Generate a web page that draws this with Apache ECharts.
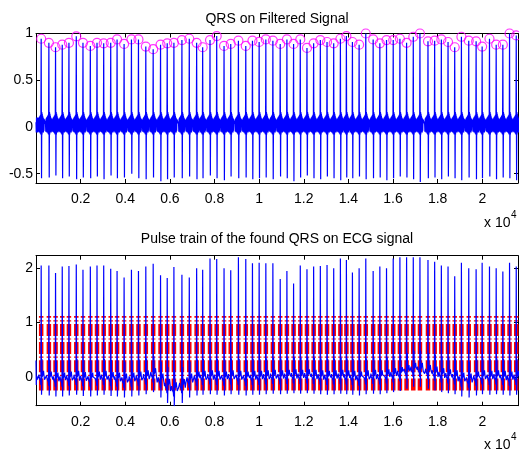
<!DOCTYPE html>
<html><head><meta charset="utf-8">
<script src="https://cdn.jsdelivr.net/npm/echarts@6/dist/echarts.min.js"></script>
<style>html,body{margin:0;padding:0;background:#fff}#c{width:519px;height:452px}</style>
</head><body><div id="c"></div>
<script>
// ---- data ----
const rPeakSamples = [232,577,876,1176,1476,1805,2105,2435,2734,3034,3348,3633,3948,4277,4592,4921,5251,5581,5880,6180,6539,6869,7199,7469,7798,8098,8427,8727,9071,9401,9700,10000,10300,10615,10944,11244,11543,11843,12143,12442,12742,13042,13341,13641,13910,14180,14480,14779,15109,15409,15708,16008,16308,16607,16907,17206,17566,17865,18165,18465,18764,19064,19393,19723,19993,20322,20622,20921,21221,21521];
const filtPeaks = [0.944,0.90,0.853,0.88,0.90,0.97,0.90,0.867,0.90,0.895,0.90,0.937,0.888,0.937,0.937,0.86,0.832,0.88,0.895,0.90,0.93,0.944,0.90,0.853,0.93,0.972,0.867,0.888,0.923,0.867,0.923,0.91,0.937,0.923,0.888,0.937,0.888,0.937,0.846,0.895,0.93,0.909,0.895,0.944,0.972,0.909,0.88,1.0,0.937,0.895,0.93,0.93,0.944,0.90,0.965,1.0,0.916,0.923,0.937,0.909,0.853,0.965,0.923,0.916,0.86,0.944,0.88,0.88,1.0,0.979];
const filtTroughs = [-0.55,-0.54,-0.52,-0.55,-0.53,-0.56,-0.54,-0.55,-0.53,-0.56,-0.52,-0.55,-0.54,-0.5,-0.55,-0.56,-0.54,-0.58,-0.56,-0.54,-0.55,-0.53,-0.56,-0.55,-0.52,-0.55,-0.57,-0.53,-0.55,-0.54,-0.56,-0.55,-0.54,-0.56,-0.53,-0.55,-0.58,-0.54,-0.52,-0.55,-0.56,-0.53,-0.55,-0.57,-0.54,-0.55,-0.53,-0.56,-0.55,-0.54,-0.57,-0.55,-0.53,-0.54,-0.56,-0.59,-0.55,-0.54,-0.56,-0.53,-0.55,-0.57,-0.54,-0.56,-0.55,-0.53,-0.56,-0.54,-0.55,-0.57];
const ecgPeaks = [2.05,2.05,1.91,2.03,2.04,2.07,1.97,2.03,2.05,2.05,1.99,1.95,1.83,1.97,1.95,2.03,2.08,1.87,1.82,2.02,1.88,1.83,2.0,1.97,2.18,2.17,2.0,1.96,2.2,2.17,2.09,2.1,2.09,2.09,1.8,1.95,1.72,2.05,1.98,2.03,2.04,2.06,2.0,2.18,2.15,1.92,2.0,2.18,1.95,2.03,2.0,2.18,2.2,2.2,2.2,2.2,2.15,2.12,2.05,2.03,1.85,2.1,2.0,1.98,2.1,2.03,2.0,1.94,2.1,2.03];
const ecgBaseline = [-0.05,-0.06,-0.08,-0.08,-0.06,-0.05,-0.07,-0.08,-0.06,-0.05,-0.07,-0.08,-0.1,-0.08,-0.06,-0.04,0.0,-0.1,-0.2,-0.26,-0.2,-0.1,-0.06,-0.05,-0.04,-0.05,-0.06,-0.04,-0.05,-0.06,-0.05,-0.05,-0.04,-0.03,-0.04,-0.03,-0.02,-0.03,-0.02,-0.03,-0.04,-0.05,-0.04,-0.03,-0.04,-0.05,-0.06,-0.04,-0.03,-0.04,-0.02,0.0,0.02,0.06,0.1,0.1,0.06,0.03,0.0,-0.02,-0.04,-0.08,-0.1,-0.06,-0.04,-0.05,-0.04,-0.05,-0.06,-0.05];
// beat shape around each R peak (sample offset, value); 'R' = peak, 'S' = trough
const filtShapeOffsets = [-150,-138,-126,-114,-102,-90,-78,-66,-54,-42,-30,-18,-10,0,16,28,38,48,58,68,78,90,102,114,126,138];
const filtShapeValues  = [0.03,-0.05,0.09,-0.04,0.1,-0.06,0.11,-0.05,0.12,-0.07,0.13,-0.08,0.16,'R','S',0.16,-0.08,0.14,-0.06,0.12,-0.05,0.1,-0.06,0.09,-0.04,0.08];
const ecgShapeOffsets = [-150,-120,-100,-80,-50,-25,-12,0,16,26,34,44,60,85,105,125,150];
const ecgShapeValues  = [0,0.03,0.09,0.03,0,-0.03,-0.1,'R',-0.28,-0.1,0.38,0.05,0.04,0.1,0.16,0.08,0];
const filtLead = [[0,0.05],[12,-0.06],[24,0.1],[36,-0.05],[48,0.08],[60,-0.06],[72,0.1]];
const ecgLead = [[0,0.3],[12,-0.15],[30,0.02],[60,-0.05]];
const pulseLow = -0.25, pulseHigh = 1.12;
const xTickValues = [2000,4000,6000,8000,10000,12000,14000,16000,18000,20000];
const xTickLabels = ['0.2','0.4','0.6','0.8','1','1.2','1.4','1.6','1.8','2'];
const yTopTicks = [-0.5,0,0.5,1];
const yTopLabels = ['-0.5','0','0.5','1'];
const yBotTicks = [0,1,2];
const yBotLabels = ['0','1','2'];
const xMax = 21600;

// ---- build series ----
function build(offsets, values, valFn, lead) {
  const out = lead.slice();
  const n = rPeakSamples.length;
  for (let i = 0; i < n; i++) {
    const r = rPeakSamples[i];
    const lo = i === 0 ? -Infinity : (rPeakSamples[i-1] + r) / 2;
    const hi = i === n-1 ? Infinity : (rPeakSamples[i+1] + r) / 2;
    for (let k = 0; k < offsets.length; k++) {
      const s = r + offsets[k];
      if (s < lo || s >= hi) continue;
      out.push([s, valFn(values[k], i)]);
    }
  }
  return out;
}
const filtData = build(filtShapeOffsets, filtShapeValues, (v,i) => v === 'R' ? filtPeaks[i] : (v === 'S' ? filtTroughs[i] : v), filtLead);
const ecgData = build(ecgShapeOffsets, ecgShapeValues, (v,i) => v === 'R' ? ecgPeaks[i] : ecgBaseline[i] + v, ecgLead);
const circleData = rPeakSamples.map((s,i) => [s, filtPeaks[i]]);
const pulseData = rPeakSamples.map(s => [s, pulseLow, pulseHigh]);

const FONT = '"Liberation Sans", Arial, sans-serif';
const FS = 14;
function xAxes(grid) {
  const lab = {};
  xTickValues.forEach((v,i) => lab[v] = xTickLabels[i]);
  return [
    { type:'value', gridIndex:grid, min:0, max:xMax, position:'bottom',
      axisLine:{show:true, onZero:false, lineStyle:{color:'#000', width:1}},
      axisTick:{show:true, inside:true, length:4, customValues:xTickValues, lineStyle:{color:'#000'}},
      axisLabel:{show:true, customValues:xTickValues, margin:9, color:'#000', fontSize:FS, fontFamily:FONT, formatter:v => lab[v] ?? ''},
      splitLine:{show:false} },
    { type:'value', gridIndex:grid, min:0, max:xMax, position:'top',
      axisLine:{show:true, onZero:false, lineStyle:{color:'#000', width:1}},
      axisTick:{show:true, inside:true, length:4, customValues:xTickValues, lineStyle:{color:'#000'}},
      axisLabel:{show:false}, splitLine:{show:false} }
  ];
}
function yAxes(grid, min, max, ticks, labels) {
  const lab = {};
  ticks.forEach((v,i) => lab[v] = labels[i]);
  return [
    { type:'value', gridIndex:grid, min, max, position:'left',
      axisLine:{show:true, onZero:false, lineStyle:{color:'#000', width:1}},
      axisTick:{show:true, inside:true, length:4, customValues:ticks, lineStyle:{color:'#000'}},
      axisLabel:{show:true, customValues:ticks, margin:3, color:'#000', fontSize:FS, fontFamily:FONT, formatter:v => lab[v] ?? ''},
      splitLine:{show:false} },
    { type:'value', gridIndex:grid, min, max, position:'right',
      axisLine:{show:true, onZero:false, lineStyle:{color:'#000', width:1}},
      axisTick:{show:true, inside:true, length:4, customValues:ticks, lineStyle:{color:'#000'}},
      axisLabel:{show:false}, splitLine:{show:false} }
  ];
}

const chart = echarts.init(document.getElementById('c'), null, {renderer:'canvas'});
chart.setOption({
  animation:false,
  backgroundColor:'#fff',
  grid:[
    {left:36, right:1, top:33.5, height:149.5},
    {left:36, right:1, top:255.7, height:150}
  ],
  xAxis:[...xAxes(0), ...xAxes(1)],
  yAxis:[...yAxes(0, -0.6, 1, yTopTicks, yTopLabels), ...yAxes(1, -0.53, 2.23, yBotTicks, yBotLabels)],
  graphic:[
    {type:'text', x:277, y:19, style:{text:'QRS on Filtered Signal', fill:'#000', font:FS+'px '+FONT, textAlign:'center', textVerticalAlign:'middle'}},
    {type:'text', x:277, y:239, style:{text:'Pulse train of the found QRS on ECG signal', fill:'#000', font:FS+'px '+FONT, textAlign:'center', textVerticalAlign:'middle'}},
    {type:'text', x:484, y:223, style:{text:'x 10', fill:'#000', font:FS+'px '+FONT, textAlign:'left', textVerticalAlign:'middle'}},
    {type:'text', x:511, y:215, style:{text:'4', fill:'#000', font:'10px '+FONT, textAlign:'left', textVerticalAlign:'middle'}},
    {type:'text', x:484, y:445, style:{text:'x 10', fill:'#000', font:FS+'px '+FONT, textAlign:'left', textVerticalAlign:'middle'}},
    {type:'text', x:511, y:437, style:{text:'4', fill:'#000', font:'10px '+FONT, textAlign:'left', textVerticalAlign:'middle'}}
  ],
  series:[
    {type:'line', xAxisIndex:0, yAxisIndex:0, data:filtData, showSymbol:false, symbol:'none',
     lineStyle:{color:'#0000ff', width:1.2}, silent:true},
    {type:'scatter', xAxisIndex:0, yAxisIndex:0, data:circleData, symbol:'circle', symbolSize:9,
     itemStyle:{color:'rgba(0,0,0,0)', borderColor:'#ff00ff', borderWidth:1.2}, silent:true},
    {type:'line', xAxisIndex:2, yAxisIndex:2, data:ecgData, showSymbol:false, symbol:'none',
     lineStyle:{color:'#0000ff', width:1.2}, silent:true},
    {type:'custom', xAxisIndex:2, yAxisIndex:2, data:pulseData, silent:true,
     renderItem:function(params, api){
       const x = api.value(0);
       const p1 = api.coord([x, api.value(1)]);
       const p2 = api.coord([x, api.value(2)]);
       return {type:'line', shape:{x1:p1[0], y1:p1[1], x2:p2[0], y2:p2[1]},
               style:{stroke:'#ff0000', lineWidth:4.5, lineDash:[12,2.5,1.2,2.5], lineCap:'butt', fill:null}};
     }}
  ]
});
</script></body></html>
